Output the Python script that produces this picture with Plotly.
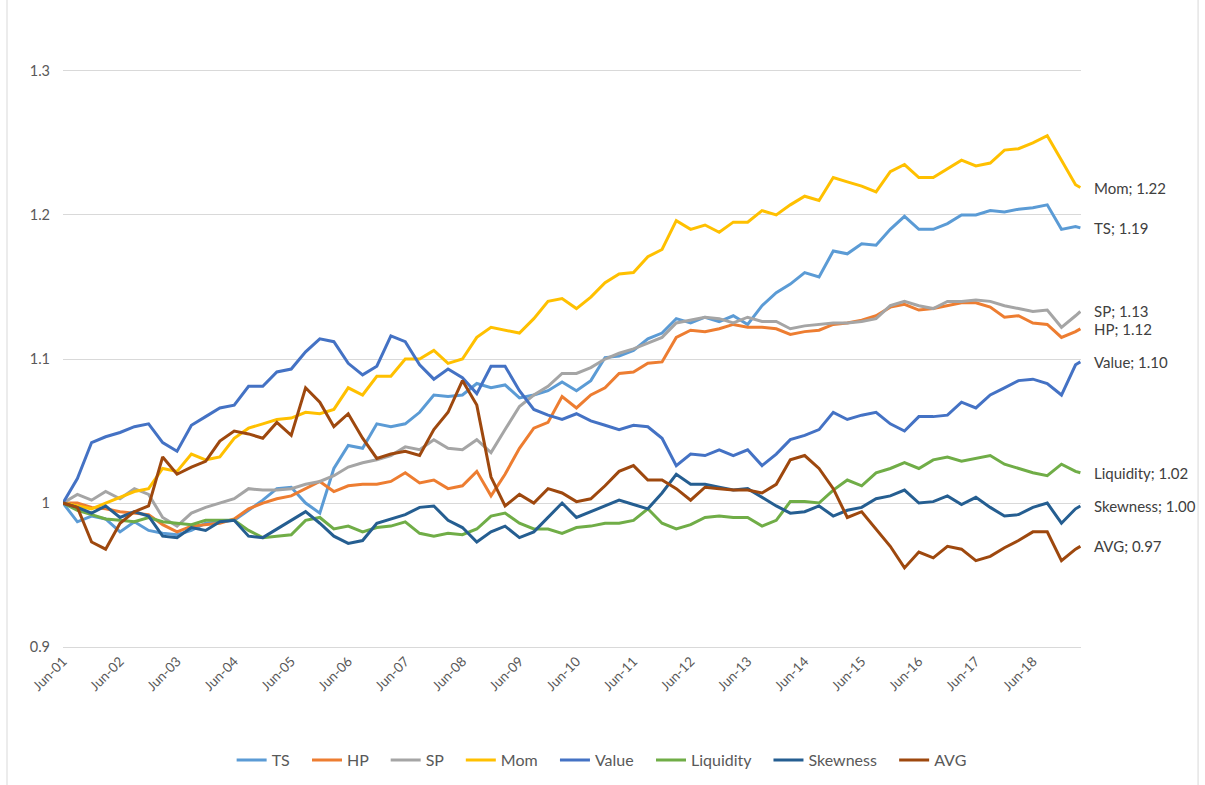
import pandas as pd
import plotly.graph_objects as go

# Quarterly observation dates (Jun-01 ... Mar-19) plus the final month
dates = list(pd.date_range("2001-06-01", "2019-03-01", freq="3MS").strftime("%Y-%m-%d")) + ["2019-04-01"]

# One row per year: Jun, Sep, Dec, Mar
TS = [1.000, 0.987, 0.991, 0.989,
      0.980, 0.987, 0.981, 0.979,
      0.978, 0.981, 0.986, 0.987,
      0.988, 0.995, 1.002, 1.010,
      1.011, 1.000, 0.993, 1.024,
      1.040, 1.038, 1.055, 1.053,
      1.055, 1.063, 1.075, 1.074,
      1.075, 1.083, 1.080, 1.082,
      1.073, 1.075, 1.078, 1.084,
      1.078, 1.085, 1.101, 1.102,
      1.106, 1.114, 1.118, 1.128,
      1.125, 1.129, 1.126, 1.130,
      1.124, 1.137, 1.146, 1.152,
      1.160, 1.157, 1.175, 1.173,
      1.180, 1.179, 1.190, 1.199,
      1.190, 1.190, 1.194, 1.200,
      1.200, 1.203, 1.202, 1.204,
      1.205, 1.207, 1.190, 1.192,
      1.191]

HP = [1.000, 1.000, 0.997, 0.996,
      0.994, 0.993, 0.992, 0.985,
      0.980, 0.984, 0.985, 0.986,
      0.989, 0.996, 1.000, 1.003,
      1.005, 1.010, 1.015, 1.008,
      1.012, 1.013, 1.013, 1.015,
      1.021, 1.014, 1.016, 1.010,
      1.012, 1.022, 1.005, 1.020,
      1.038, 1.052, 1.056, 1.074,
      1.066, 1.075, 1.080, 1.090,
      1.091, 1.097, 1.098, 1.115,
      1.120, 1.119, 1.121, 1.124,
      1.122, 1.122, 1.121, 1.117,
      1.119, 1.120, 1.124, 1.125,
      1.127, 1.130, 1.136, 1.138,
      1.134, 1.135, 1.137, 1.139,
      1.139, 1.136, 1.129, 1.130,
      1.125, 1.124, 1.115, 1.119,
      1.121]

SP = [1.000, 1.006, 1.002, 1.008,
      1.003, 1.010, 1.006, 0.990,
      0.984, 0.993, 0.997, 1.000,
      1.003, 1.010, 1.009, 1.009,
      1.010, 1.013, 1.015, 1.019,
      1.025, 1.028, 1.030, 1.033,
      1.039, 1.037, 1.044, 1.038,
      1.037, 1.044, 1.035, 1.051,
      1.067, 1.075, 1.081, 1.090,
      1.090, 1.094, 1.100, 1.104,
      1.107, 1.111, 1.115, 1.125,
      1.127, 1.129, 1.128, 1.125,
      1.129, 1.126, 1.126, 1.121,
      1.123, 1.124, 1.125, 1.125,
      1.126, 1.128, 1.137, 1.140,
      1.137, 1.135, 1.140, 1.140,
      1.141, 1.140, 1.137, 1.135,
      1.133, 1.134, 1.122, 1.130,
      1.133]

Mom = [1.000, 0.998, 0.996, 1.000,
       1.004, 1.008, 1.010, 1.024,
       1.022, 1.034, 1.030, 1.032,
       1.045, 1.052, 1.055, 1.058,
       1.059, 1.063, 1.062, 1.065,
       1.080, 1.075, 1.088, 1.088,
       1.100, 1.100, 1.106, 1.097,
       1.100, 1.115, 1.122, 1.120,
       1.118, 1.128, 1.140, 1.142,
       1.135, 1.143, 1.153, 1.159,
       1.160, 1.171, 1.176, 1.196,
       1.190, 1.193, 1.188, 1.195,
       1.195, 1.203, 1.200, 1.207,
       1.213, 1.210, 1.226, 1.223,
       1.220, 1.216, 1.230, 1.235,
       1.226, 1.226, 1.232, 1.238,
       1.234, 1.236, 1.245, 1.246,
       1.250, 1.255, 1.238, 1.221,
       1.219]

Value = [1.000, 1.017, 1.042, 1.046,
         1.049, 1.053, 1.055, 1.042,
         1.036, 1.054, 1.060, 1.066,
         1.068, 1.081, 1.081, 1.091,
         1.093, 1.105, 1.114, 1.112,
         1.097, 1.089, 1.095, 1.116,
         1.112, 1.096, 1.086, 1.093,
         1.087, 1.076, 1.095, 1.095,
         1.078, 1.065, 1.061, 1.058,
         1.062, 1.057, 1.054, 1.051,
         1.054, 1.053, 1.045, 1.026,
         1.034, 1.033, 1.037, 1.033,
         1.037, 1.026, 1.034, 1.044,
         1.047, 1.051, 1.063, 1.058,
         1.061, 1.063, 1.055, 1.050,
         1.060, 1.060, 1.061, 1.070,
         1.066, 1.075, 1.080, 1.085,
         1.086, 1.083, 1.075, 1.096,
         1.098]

Liquidity = [1.000, 0.995, 0.992, 0.989,
             0.988, 0.987, 0.990, 0.987,
             0.986, 0.985, 0.988, 0.988,
             0.988, 0.981, 0.976, 0.977,
             0.978, 0.988, 0.990, 0.982,
             0.984, 0.980, 0.983, 0.984,
             0.987, 0.979, 0.977, 0.979,
             0.978, 0.982, 0.991, 0.993,
             0.986, 0.982, 0.982, 0.979,
             0.983, 0.984, 0.986, 0.986,
             0.988, 0.996, 0.986, 0.982,
             0.985, 0.990, 0.991, 0.990,
             0.990, 0.984, 0.988, 1.001,
             1.001, 1.000, 1.009, 1.016,
             1.012, 1.021, 1.024, 1.028,
             1.024, 1.030, 1.032, 1.029,
             1.031, 1.033, 1.027, 1.024,
             1.021, 1.019, 1.027, 1.022,
             1.021]

Skewness = [1.000, 0.997, 0.993, 0.998,
            0.990, 0.994, 0.991, 0.977,
            0.976, 0.983, 0.981, 0.987,
            0.988, 0.977, 0.976, 0.982,
            0.988, 0.994, 0.986, 0.977,
            0.972, 0.974, 0.986, 0.989,
            0.992, 0.997, 0.998, 0.988,
            0.983, 0.973, 0.980, 0.984,
            0.976, 0.980, 0.990, 1.000,
            0.990, 0.994, 0.998, 1.002,
            0.999, 0.996, 1.007, 1.020,
            1.013, 1.013, 1.011, 1.009,
            1.010, 1.004, 0.998, 0.993,
            0.994, 0.998, 0.991, 0.995,
            0.997, 1.003, 1.005, 1.009,
            1.000, 1.001, 1.005, 0.999,
            1.004, 0.997, 0.991, 0.992,
            0.997, 1.000, 0.986, 0.996,
            0.998]

AVG = [1.000, 0.997, 0.973, 0.968,
       0.986, 0.994, 0.998, 1.032,
       1.020, 1.025, 1.029, 1.043,
       1.050, 1.048, 1.045, 1.056,
       1.047, 1.080, 1.070, 1.053,
       1.062, 1.045, 1.031, 1.034,
       1.036, 1.033, 1.051, 1.063,
       1.085, 1.068, 1.018, 0.998,
       1.006, 1.000, 1.010, 1.007,
       1.001, 1.003, 1.012, 1.022,
       1.026, 1.016, 1.016, 1.010,
       1.002, 1.011, 1.010, 1.009,
       1.009, 1.007, 1.013, 1.030,
       1.033, 1.024, 1.010, 0.990,
       0.994, 0.982, 0.970, 0.955,
       0.966, 0.962, 0.970, 0.968,
       0.960, 0.963, 0.969, 0.974,
       0.980, 0.980, 0.960, 0.968,
       0.970]

names = ["TS", "HP", "SP", "Mom", "Value", "Liquidity", "Skewness", "AVG"]
colors = ["#5B9BD5", "#ED7D31", "#A5A5A5", "#FFC000", "#4472C4", "#70AD47", "#255E91", "#9E480E"]
series = [TS, HP, SP, Mom, Value, Liquidity, Skewness, AVG]

FONT = "Lato, 'Open Sans', sans-serif"
NBSP = "\u00a0"

fig = go.Figure()
for name, color, vals in zip(names, colors, series):
    fig.add_trace(go.Scatter(x=dates, y=vals, mode="lines", name=name + NBSP * 3,
                             line=dict(color=color, width=3)))
    fig.add_annotation(x=dates[-1], y=vals[-1], text=f"{name}; {vals[-1]:.2f}",
                       showarrow=False, xanchor="left", yanchor="middle", xshift=12,
                       font=dict(family=FONT, size=15, color="#404040"))

# chart-area border (left and right edges)
for xp in (-0.055, 1.115):
    fig.add_shape(type="line", xref="paper", yref="paper", x0=xp, x1=xp, y0=-0.24, y1=1.125,
                  line=dict(color="#D9D9D9", width=1))

fig.update_layout(
    width=1205, height=785, autosize=False,
    margin=dict(l=63, r=124, t=68, b=135, autoexpand=False),
    paper_bgcolor="white", plot_bgcolor="white",
    font=dict(family=FONT, color="#595959"),
    showlegend=True,
    legend=dict(orientation="h", x=0.535, xanchor="center", y=-0.189, yanchor="middle",
                font=dict(family=FONT, size=16, color="#595959"), itemwidth=30,
                traceorder="normal"),
    xaxis=dict(type="date", range=["2001-06-01", "2019-04-05"], tick0="2001-06-01", dtick="M12",
               tickformat="%b-%y", tickangle=-45, showgrid=False, zeroline=False,
               showline=False, ticks="", tickfont=dict(family=FONT, size=13.5, color="#595959")),
    yaxis=dict(range=[0.898, 1.302], dtick=0.1, tick0=0, showgrid=True, gridcolor="#D9D9D9",
               gridwidth=1, zeroline=False, showline=False, ticks="", ticklabelstandoff=12,
               tickfont=dict(family=FONT, size=14.5, color="#595959")),
)

fig.write_html("out.html", config={"displayModeBar": False},
               post_script="document.body.style.margin='0px';")
